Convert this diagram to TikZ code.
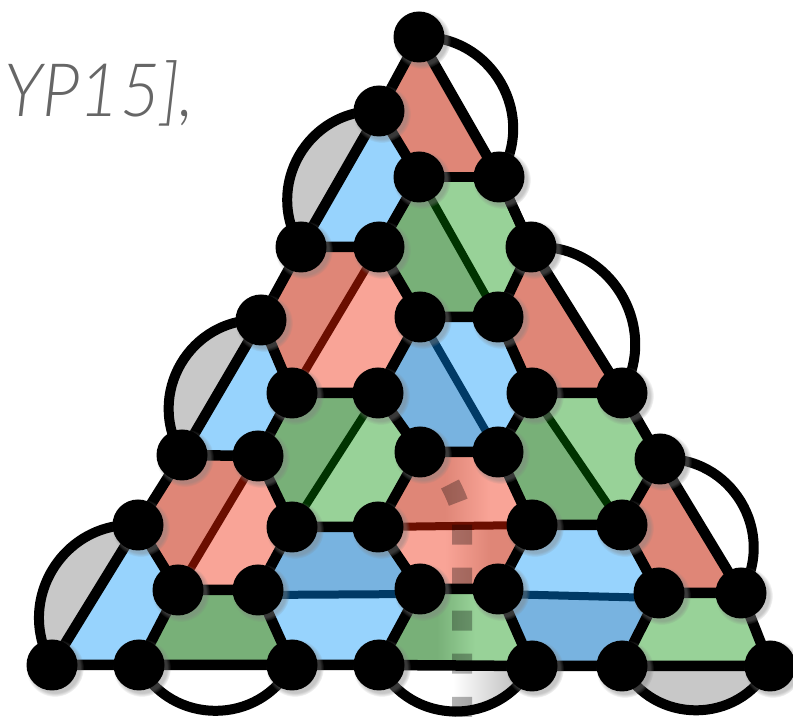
\documentclass[tikz,border=0pt]{standalone}
\usepackage{fontspec}
\IfFontExistsTF{Lato Light Italic}
  {\newfontfamily\citefont{Lato Light Italic}}
  {\newfontfamily\citefont{Lato Italic}}
\usetikzlibrary{shadows}
\definecolor{redD}{HTML}{DF8677}
\definecolor{redL}{HTML}{F9A497}
\definecolor{redLine}{HTML}{6B0E00}
\definecolor{grnD}{HTML}{78B078}
\definecolor{grnL}{HTML}{98D298}
\definecolor{grnLine}{HTML}{003300}
\definecolor{bluD}{HTML}{78B3E0}
\definecolor{bluL}{HTML}{97D3FD}
\definecolor{bluLine}{HTML}{003A66}
\definecolor{capGray}{HTML}{C8C8C8}
\definecolor{citeGray}{HTML}{666666}
\pgfdeclarelayer{fills}
\pgfdeclarelayer{wires}
\pgfsetlayers{fills,wires,main}
\begin{document}
\begin{tikzpicture}[x=1bp,y=1bp,
  dot/.style={circle, fill=black, minimum size=51bp, inner sep=0pt,
    circular drop shadow={shadow xshift=2.5bp, shadow yshift=-2.5bp, shadow scale=1.14, opacity=0.45}},
  hexedge/.style={line width=10.5bp, line join=round},
  splitline/.style={line width=8bp},
  bulge/.style={bend right=62, looseness=1.16},
  arcline/.style={line width=10bp},
  mirror/.style={line width=20bp, dash pattern=on 20bp off 23bp, black, opacity=0.3},
]
\useasboundingbox (0,0) rectangle (793,721);

% citation fragment
\node[anchor=base west, inner sep=0pt, text=citeGray,
      font=\citefont\fontsize{74}{74}\selectfont] (cite) at (4,604) {\scalebox{0.94}[1]{YP15],}};

% honeycomb vertices (row, index)
\node[dot] (n90) at (419,684) {};
\node[dot] (n80) at (379,610) {};
\node[dot] (n71) at (419,544) {};
\node[dot] (n72) at (499,544) {};
\node[dot] (n60) at (301,474) {};
\node[dot] (n61) at (379,474) {};
\node[dot] (n63) at (531,474) {};
\node[dot] (n50) at (261,401) {};
\node[dot] (n52) at (420,404) {};
\node[dot] (n53) at (498,404) {};
\node[dot] (n41) at (292,328) {};
\node[dot] (n42) at (378,328) {};
\node[dot] (n44) at (532,328) {};
\node[dot] (n45) at (622,328) {};
\node[dot] (n30) at (182,266) {};
\node[dot] (n31) at (258,265) {};
\node[dot] (n33) at (420,269) {};
\node[dot] (n34) at (498,269) {};
\node[dot] (n36) at (660,262) {};
\node[dot] (n20) at (138,196) {};
\node[dot] (n22) at (292,194) {};
\node[dot] (n23) at (378,194) {};
\node[dot] (n25) at (532,196) {};
\node[dot] (n26) at (622,196) {};
\node[dot] (n11) at (178,131) {};
\node[dot] (n12) at (258,131) {};
\node[dot] (n14) at (420,132) {};
\node[dot] (n15) at (498,132) {};
\node[dot] (n17) at (659,128) {};
\node[dot] (n18) at (741,128) {};
\node[dot] (n00) at (52,56) {};
\node[dot] (n01) at (139,56) {};
\node[dot] (n03) at (292,56) {};
\node[dot] (n04) at (379,56) {};
\node[dot] (n06) at (532,55) {};
\node[dot] (n07) at (622,55) {};
\node[dot] (n09) at (770,55) {};

\coordinate (mirrorTop) at (450,237);
\coordinate (mirrorBot) at (462,-20);

\begin{pgfonlayer}{fills}
  % caps outside the boundary
  \fill[capGray] (n80.center) to[bulge] (n60.center) -- cycle;
  \fill[capGray] (n50.center) to[bulge] (n30.center) -- cycle;
  \fill[capGray] (n20.center) to[bulge] (n00.center) -- cycle;
  \fill[white]   (n72.center) to[bulge] (n90.center) -- cycle;
  \fill[white]   (n45.center) to[bulge] (n63.center) -- cycle;
  \fill[white]   (n18.center) to[bulge] (n36.center) -- cycle;
  \fill[white]   (n01.center) to[bulge] (n03.center) -- cycle;
  \fill[capGray] (n07.center) to[bulge] (n09.center) -- cycle;
  \begin{scope}
    \clip (n04.center) to[bulge] (n06.center) -- cycle;
    \fill[white] (370,-20) rectangle (545,60);
    \shade[left color=white, right color=capGray] (453,-20) rectangle (508,60);
    \fill[capGray] (507.5,-20) rectangle (545,60);
  \end{scope}

  % half cells along the boundary
  \fill[redD] (n90.center) -- (n80.center) -- (n71.center) -- (n72.center) -- cycle;
  \fill[redD] (n63.center) -- (n53.center) -- (n44.center) -- (n45.center) -- cycle;
  \fill[redD] (n36.center) -- (n26.center) -- (n17.center) -- (n18.center) -- cycle;
  \fill[bluL] (n80.center) -- (n60.center) -- (n61.center) -- (n71.center) -- cycle;
  \fill[bluL] (n50.center) -- (n30.center) -- (n31.center) -- (n41.center) -- cycle;
  \fill[bluL] (n20.center) -- (n00.center) -- (n01.center) -- (n11.center) -- cycle;
  \fill[grnD] (n01.center) -- (n03.center) -- (n12.center) -- (n11.center) -- cycle;
  \fill[grnL] (n07.center) -- (n09.center) -- (n18.center) -- (n17.center) -- cycle;
  \begin{scope}
    \clip (n04.center) -- (n06.center) -- (n15.center) -- (n14.center) -- cycle;
    \fill[grnD] (370,40) rectangle (545,145);
    \shade[left color=grnD, right color=grnL] (437,40) rectangle (475,145);
    \fill[grnL] (474.5,40) rectangle (545,145);
  \end{scope}

  % full cells, each split in a dark and a light half
  \fill[grnD] (n71.center) -- (n61.center) -- (n52.center) -- (n53.center) -- cycle;
  \fill[grnL] (n53.center) -- (n63.center) -- (n72.center) -- (n71.center) -- cycle;
  \fill[redD] (n61.center) -- (n60.center) -- (n50.center) -- (n41.center) -- cycle;
  \fill[redL] (n41.center) -- (n42.center) -- (n52.center) -- (n61.center) -- cycle;
  \fill[bluD] (n52.center) -- (n42.center) -- (n33.center) -- (n34.center) -- cycle;
  \fill[bluL] (n34.center) -- (n44.center) -- (n53.center) -- (n52.center) -- cycle;
  \fill[grnD] (n42.center) -- (n41.center) -- (n31.center) -- (n22.center) -- cycle;
  \fill[grnL] (n22.center) -- (n23.center) -- (n33.center) -- (n42.center) -- cycle;
  \fill[grnD] (n44.center) -- (n34.center) -- (n25.center) -- (n26.center) -- cycle;
  \fill[grnL] (n26.center) -- (n36.center) -- (n45.center) -- (n44.center) -- cycle;
  \fill[redD] (n31.center) -- (n30.center) -- (n20.center) -- (n11.center) -- cycle;
  \fill[redL] (n11.center) -- (n12.center) -- (n22.center) -- (n31.center) -- cycle;
  \fill[bluD] ([yshift=-5bp]n12.center) -- (n22.center) -- (n23.center) -- ([yshift=-5bp]n14.center) -- cycle;
  \fill[bluL] ([yshift=-5bp]n14.center) -- (n04.center) -- (n03.center) -- ([yshift=-5bp]n12.center) -- cycle;
  \fill[bluL] ([yshift=-5bp]n15.center) -- (n25.center) -- (n26.center) -- ([yshift=-5bp]n17.center) -- cycle;
  \fill[bluD] ([yshift=-5bp]n17.center) -- (n07.center) -- (n06.center) -- ([yshift=-5bp]n15.center) -- cycle;
  \begin{scope}
    \clip (n23.center) -- (n33.center) -- (n34.center) -- (n25.center) -- cycle;
    \fill[redD] (370,180) rectangle (545,280);
    \shade[left color=redD, right color=redL] (445,180) rectangle (490,280);
    \fill[redL] (489.5,180) rectangle (545,280);
  \end{scope}
  \begin{scope}
    \clip (n23.center) -- (n14.center) -- (n15.center) -- (n25.center) -- cycle;
    \fill[redL] (370,120) rectangle (545,200);
    \shade[left color=redL, right color=redD] (445,120) rectangle (490,200);
    \fill[redD] (489.5,120) rectangle (545,200);
  \end{scope}

  % dividing lines
  \draw[splitline, grnLine] (n71.center) -- (n53.center);
  \draw[splitline, redLine] (n61.center) -- (n41.center);
  \draw[splitline, bluLine] (n52.center) -- (n34.center);
  \draw[splitline, grnLine] (n42.center) -- (n22.center);
  \draw[splitline, grnLine] (n44.center) -- (n26.center);
  \draw[splitline, redLine] (n31.center) -- (n11.center);
  \draw[splitline, redLine] (n23.center) -- (n25.center);
  \draw[splitline, bluLine] ([yshift=-5bp]n12.center) -- ([yshift=-5bp]n14.center);
  \draw[splitline, bluLine] ([yshift=-5bp]n15.center) -- ([yshift=-5bp]n17.center);

  % dashed mirror line
  \draw[mirror] (mirrorTop) .. controls (456.4,224.5) and (462,212) .. (462,200) -- (mirrorBot);
\end{pgfonlayer}

\begin{pgfonlayer}{wires}
  % outer triangle
  \draw[hexedge] (n00.center) -- (n01.center) -- (n03.center) -- (n04.center) -- (n06.center) -- (n07.center) -- (n09.center)
    -- (n18.center) -- (n36.center) -- (n45.center) -- (n63.center) -- (n72.center) -- (n90.center)
    -- (n80.center) -- (n60.center) -- (n50.center) -- (n30.center) -- (n20.center) -- cycle;
  % inner edges
  \draw[hexedge] (n80.center) -- (n71.center) -- (n61.center) -- (n60.center);
  \draw[hexedge] (n71.center) -- (n72.center);
  \draw[hexedge] (n72.center) -- (n63.center) -- (n53.center) -- (n52.center) -- (n61.center);
  \draw[hexedge] (n53.center) -- (n44.center) -- (n45.center);
  \draw[hexedge] (n50.center) -- (n41.center) -- (n42.center) -- (n52.center);
  \draw[hexedge] (n42.center) -- (n33.center) -- (n34.center) -- (n44.center);
  \draw[hexedge] (n30.center) -- (n31.center) -- (n41.center);
  \draw[hexedge] (n31.center) -- (n22.center) -- (n23.center) -- (n33.center);
  \draw[hexedge] (n34.center) -- (n25.center) -- (n26.center) -- (n36.center);
  \draw[hexedge] (n26.center) -- (n17.center) -- (n18.center);
  \draw[hexedge] (n20.center) -- (n11.center) -- (n12.center) -- (n22.center);
  \draw[hexedge] (n23.center) -- (n14.center) -- (n15.center) -- (n25.center);
  \draw[hexedge] (n15.center) -- (n06.center);
  \draw[hexedge] (n07.center) -- (n17.center);
  \draw[hexedge] (n01.center) -- (n11.center);
  \draw[hexedge] (n12.center) -- (n03.center);
  \draw[hexedge] (n04.center) -- (n14.center);
  % cap outlines
  \draw[arcline] (n80.center) to[bulge] (n60.center);
  \draw[arcline] (n50.center) to[bulge] (n30.center);
  \draw[arcline] (n20.center) to[bulge] (n00.center);
  \draw[arcline] (n72.center) to[bulge] (n90.center);
  \draw[arcline] (n45.center) to[bulge] (n63.center);
  \draw[arcline] (n18.center) to[bulge] (n36.center);
  \draw[arcline] (n01.center) to[bulge] (n03.center);
  \draw[arcline] (n04.center) to[bulge] (n06.center);
  \draw[arcline] (n07.center) to[bulge] (n09.center);
\end{pgfonlayer}
\end{tikzpicture}
\end{document}
